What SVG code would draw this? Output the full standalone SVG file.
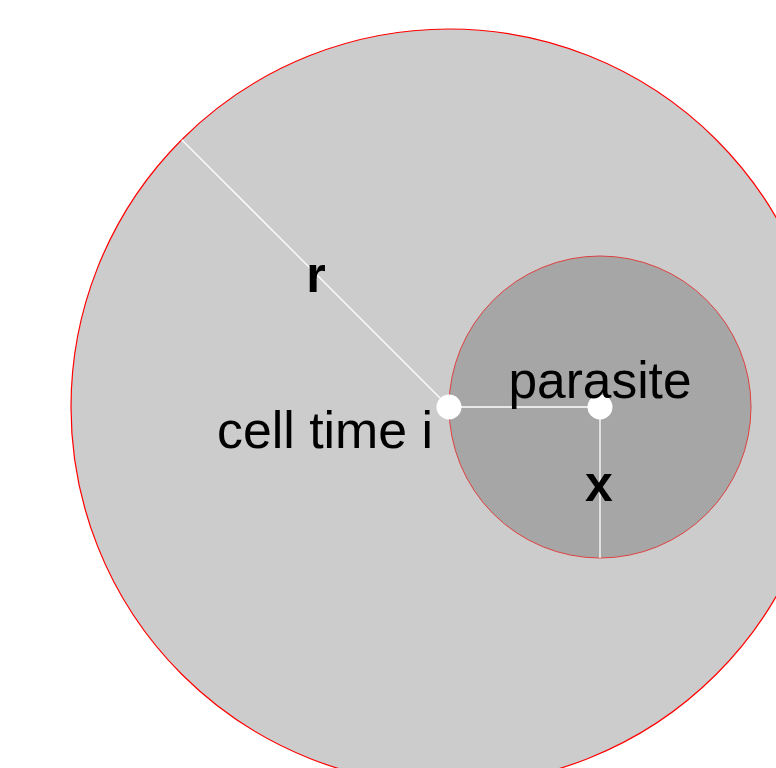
<svg xmlns="http://www.w3.org/2000/svg" width="776" height="768" viewBox="0 0 776 768">
<style>
.lbl{font-family:"Liberation Sans",Arial,sans-serif;font-size:52px;fill:#000}
.b{font-weight:bold;font-size:50px}
.ln{stroke:#ffffff;stroke-width:1.3;fill:none}
.dot{fill:#ffffff}
</style>
<rect width="776" height="768" fill="#ffffff"/>
<g id="cell">
<circle cx="449" cy="407" r="378" fill="#cccccc" stroke="#ff0000" stroke-width="1.2"/>
</g>
<g id="parasite">
<circle cx="600" cy="407" r="151" fill="#a6a6a6" stroke="#e04040" stroke-width="1"/>
</g>
<g id="connectors">
<line class="ln" x1="449" y1="407" x2="181.7" y2="139.7"/>
<line class="ln" x1="449" y1="407" x2="600" y2="407" stroke="#e8e8e8"/>
<line class="ln" x1="600" y1="407" x2="600" y2="558"/>
</g>
<g id="cell-center">
<circle class="dot" cx="449" cy="407" r="12.5"/>
</g>
<g id="parasite-center">
<circle class="dot" cx="600" cy="407" r="12.5"/>
</g>
<g id="labels">
<text class="lbl b" x="316" y="292" text-anchor="middle">r</text>
<text class="lbl" x="600" y="398" text-anchor="middle" textLength="183" lengthAdjust="spacingAndGlyphs">parasite</text>
<text class="lbl" x="433" y="448" text-anchor="end" textLength="216" lengthAdjust="spacingAndGlyphs">cell time i</text>
<text class="lbl b" x="599" y="501" text-anchor="middle">x</text>
</g>
</svg>
